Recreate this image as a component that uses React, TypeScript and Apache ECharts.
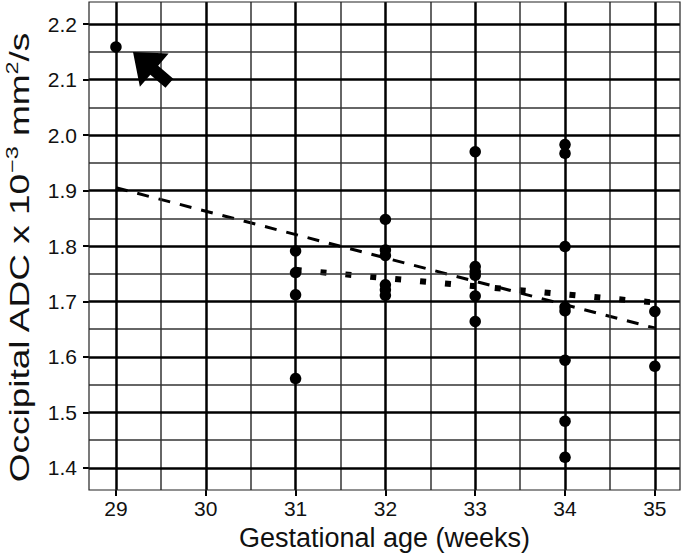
import React, { useEffect, useRef } from "react";
import * as echarts from "echarts";

const weeks = [29, 31, 31, 31, 31, 32, 32, 32, 32, 32, 32, 33, 33, 33, 33, 33, 33, 34, 34, 34, 34, 34, 34, 34, 34, 35, 35];
const adc = [2.159, 1.791, 1.752, 1.712, 1.561, 1.848, 1.793, 1.783, 1.73, 1.721, 1.711, 1.97, 1.763, 1.754, 1.747, 1.71, 1.664, 1.983, 1.967, 1.799, 1.69, 1.683, 1.594, 1.484, 1.419, 1.682, 1.583];

const dashedFit = [[29, 1.905], [35, 1.652]];
const dottedFit = [[31, 1.757], [35, 1.698]];

const xTicks = [29, 30, 31, 32, 33, 34, 35];
const xMinor = [29.5, 30.5, 31.5, 32.5, 33.5, 34.5];
const yTicks = [1.4, 1.5, 1.6, 1.7, 1.8, 1.9, 2.0, 2.1, 2.2];
const yMinor = [1.45, 1.55, 1.65, 1.75, 1.85, 1.95, 2.05, 2.15];

const xTitle = "Gestational age (weeks)";
const yTitleParts = ["Occipital ADC x 10", "−3", " mm", "2", "/s"];

const arrowTip = [29.19, 2.15];

const FONT = "'Liberation Sans', Arial, sans-serif";

export default function App() {
  const ref = useRef<HTMLDivElement>(null);
  useEffect(() => {
    if (!ref.current) return;
    const chart = echarts.init(ref.current, null, { renderer: "svg" });
    const major = { color: "#000", width: 2.5, type: "solid" };
    const minor = { color: "#333", width: 1.5, type: "solid" };
    const gridLines = [
      ...xMinor.map((v) => ({ xAxis: v, lineStyle: minor })),
      ...yMinor.map((v) => ({ yAxis: v, lineStyle: minor })),
      ...xTicks.map((v) => ({ xAxis: v, lineStyle: major })),
      ...yTicks.map((v) => ({ yAxis: v, lineStyle: major })),
    ];
    chart.setOption({
      animation: false,
      backgroundColor: "#fff",
      grid: {
        left: 89,
        right: 5,
        top: 2,
        bottom: 66,
        show: true,
        borderColor: "#222",
        borderWidth: 1.2,
        backgroundColor: "transparent",
        z: 10,
      },
      xAxis: {
        type: "value",
        min: 28.7,
        max: 35.28,
        axisLine: { show: false },
        splitLine: { show: false },
        axisTick: {
          show: true,
          customValues: xTicks,
          length: 6,
          lineStyle: { color: "#000", width: 2 },
        },
        axisLabel: {
          customValues: xTicks,
          fontSize: 21,
          fontFamily: FONT,
          color: "#111",
          margin: 8,
        },
        name: xTitle,
        nameLocation: "middle",
        nameGap: 34,
        nameTextStyle: { fontSize: 27, fontFamily: FONT, color: "#111" },
      },
      yAxis: {
        type: "value",
        min: 1.36,
        max: 2.24,
        axisLine: { show: false },
        splitLine: { show: false },
        axisTick: {
          show: true,
          customValues: yTicks,
          length: 6,
          lineStyle: { color: "#000", width: 2 },
        },
        axisLabel: {
          customValues: yTicks,
          formatter: (v: number) => v.toFixed(1),
          fontSize: 21,
          fontFamily: FONT,
          color: "#111",
          margin: 12,
        },
      },
      series: [
        {
          type: "line",
          data: [],
          z: 1,
          silent: true,
          markLine: {
            silent: true,
            symbol: "none",
            label: { show: false },
            animation: false,
            emphasis: { disabled: true },
            data: gridLines,
          },
        },
        {
          type: "line",
          data: dashedFit,
          symbol: "none",
          z: 4,
          lineStyle: { color: "#000", width: 3, type: [12, 10] },
        },
        {
          type: "line",
          data: dottedFit,
          symbol: "none",
          z: 4,
          lineStyle: { color: "#000", width: 6, type: [6, 19], cap: "butt" },
        },
        {
          type: "scatter",
          data: weeks.map((w, i) => [w, adc[i]]),
          symbol: "circle",
          symbolSize: 11.5,
          z: 5,
          itemStyle: { color: "#000", opacity: 1 },
        },
      ],
    });

    const p = chart.convertToPixel({ gridIndex: 0 }, arrowTip) as number[];
    const u = [0.758, 0.653];
    const n = [-0.653, 0.758];
    const headLen = 28, headHalf = 22, shaftHalf = 6, total = 48;
    const at = (d: number, s: number) => [p[0] + u[0] * d + n[0] * s, p[1] + u[1] * d + n[1] * s];
    const points = [
      [p[0], p[1]],
      at(headLen, headHalf),
      at(headLen, shaftHalf),
      at(total, shaftHalf),
      at(total, -shaftHalf),
      at(headLen, -shaftHalf),
      at(headLen, -headHalf),
    ];
    chart.setOption({
      graphic: [
        { type: "polygon", shape: { points }, style: { fill: "#000" }, z: 100 },
        {
          type: "text",
          x: 20,
          y: 258,
          rotation: Math.PI / 2,
          scaleX: 1.37,
          style: {
            text: `{t|${yTitleParts[0]}}{s|${yTitleParts[1]}}{t|${yTitleParts[2]}}{s|${yTitleParts[3]}}{t|${yTitleParts[4]}}`,
            align: "center",
            verticalAlign: "middle",
            rich: {
              t: { fontSize: 27, fontFamily: FONT, fill: "#111", lineHeight: 32 },
              s: { fontSize: 17, fontFamily: FONT, fill: "#111", verticalAlign: "top", lineHeight: 18 },
            },
          },
          z: 100,
        },
      ],
    });
    return () => chart.dispose();
  }, []);
  return (
    <div
      ref={ref}
      style={{ position: "absolute", left: 0, top: 0, width: 685, height: 556, background: "#fff" }}
    />
  );
}
